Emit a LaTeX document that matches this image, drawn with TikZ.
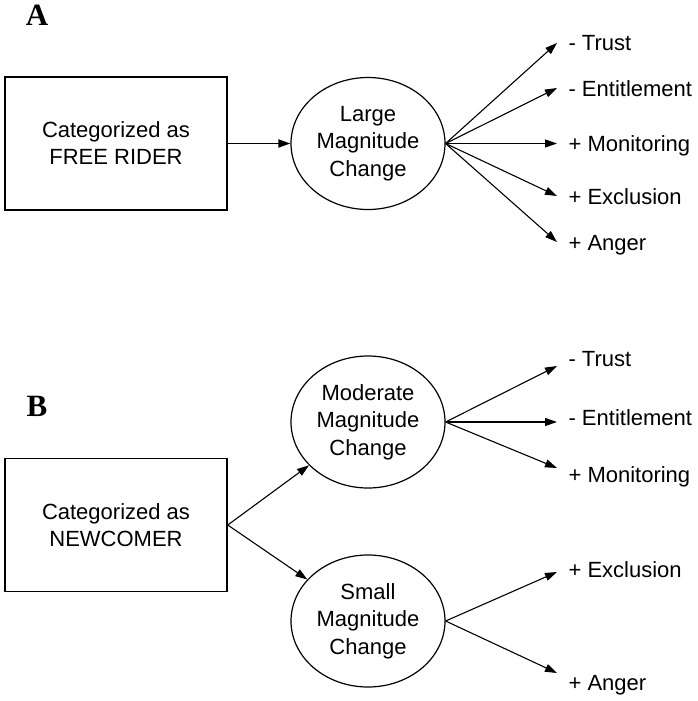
\documentclass[tikz,border=0pt]{standalone}
\usepackage{fontspec}
\setmainfont{Liberation Sans}
\newfontfamily\panelfont{Liberation Serif}
\usepackage{tikz}
\usetikzlibrary{arrows.meta}
\usetikzlibrary{shapes.geometric}

\tikzset{
  catbox/.style={draw,line width=1.5pt,minimum width=222pt,minimum height=133pt,
    align=center,font=\fontsize{22}{27}\selectfont},
  change/.style={draw,ellipse,line width=1.2pt,minimum width=154pt,minimum height=132pt,
    inner sep=0pt,align=center,font=\fontsize{22}{27.5}\selectfont},
  outcome/.style={anchor=west,inner sep=0pt,text height=16pt,text depth=0pt,
    font=\fontsize{22}{27}\selectfont},
  panel/.style={font=\panelfont\bfseries\fontsize{31}{31}\selectfont}
}

\begin{document}
\begin{tikzpicture}[x=1pt,y=-1pt,>={Triangle[length=12pt,width=8pt]},line width=1.1pt]
\useasboundingbox (0,0) rectangle (697,701);
% panel A
\node[panel] (labA) at (37,15) {A};
\node[catbox] (freeA) at (116,143.5) {Categorized as\\FREE RIDER};
\node[change] (largeA) at (368,143.5) {Large\\Magnitude\\Change};
\node[outcome] (trustA) at (568,43) {- Trust};
\node[outcome] (entA) at (568,88) {- Entitlement};
\node[outcome] (monA) at (568,143.5) {+ Monitoring};
\node[outcome] (exclA) at (568,196) {+ Exclusion};
\node[outcome] (angA) at (568,242) {+ Anger};
\draw[->,line width=1.8pt] (freeA) to (largeA);
\foreach \o in {trustA,entA,monA,exclA,angA}
  \draw[->] (largeA.east) to ([xshift=-11pt]\o.west);
% panel B
\node[panel] (labB) at (37,406) {B};
\node[catbox] (newB) at (116,525) {Categorized as\\NEWCOMER};
\node[change] (modB) at (368,422) {Moderate\\Magnitude\\Change};
\node[change] (smallB) at (368,621) {Small\\Magnitude\\Change};
\node[outcome] (trustB) at (568,358) {- Trust};
\node[outcome] (entB) at (568,417) {- Entitlement};
\node[outcome] (monB) at (568,474) {+ Monitoring};
\node[outcome] (exclB) at (568,569) {+ Exclusion};
\node[outcome] (angB) at (568,682) {+ Anger};
\draw[->] (newB.east) to (modB);
\draw[->] (newB.east) to (smallB);
\draw[->] (modB.east) to ([xshift=-11pt,yshift=-8pt]trustB.west);
\draw[->] (modB.east) to ([xshift=-11pt,yshift=-5pt]entB.west);
\draw[->] (modB.east) to ([xshift=-11pt,yshift=6pt]monB.west);
\draw[->] (smallB.east) to ([xshift=-11pt,yshift=-3pt]exclB.west);
\draw[->] (smallB.east) to ([xshift=-11pt,yshift=9pt]angB.west);
\end{tikzpicture}
\end{document}
